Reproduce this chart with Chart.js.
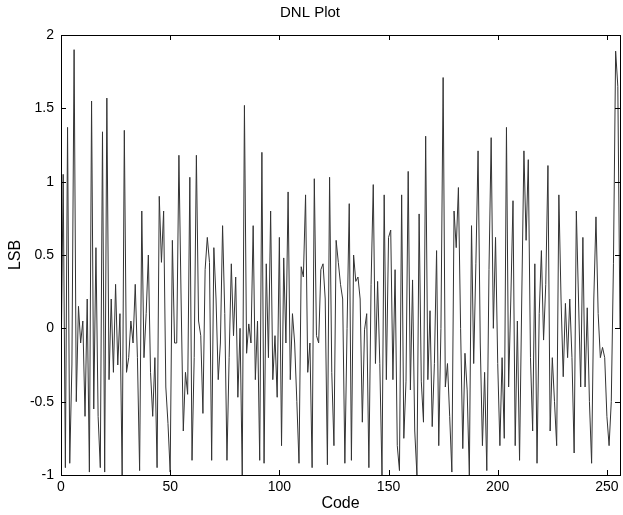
<!DOCTYPE html>
<html>
<head>
<meta charset="utf-8">
<title>DNL Plot</title>
<script src="https://cdn.jsdelivr.net/npm/chart.js@4"></script>
<style>
  body { margin: 0; background: #fff; }
  #wrap { width: 623px; height: 515px; }
</style>
</head>
<body>
<div id="wrap"><canvas id="dnl" width="623" height="515"></canvas></div>
<script>
// DNL value per code (LSB)
const dnl = [
  -0.3, 1.05, -0.95, 1.37, -0.92, -0.25, 1.9, -0.5, 0.15, -0.1,
  0.05, -0.6, 0.2, -0.98, 1.55, -0.55, 0.55, -0.6, -0.95, 1.34,
  -0.98, 1.57, -0.35, 0.2, -0.3, 0.3, -0.25, 0.1, -1.0, 1.35,
  -0.3, -0.2, 0.05, -0.1, 0.3, -0.2, -0.97, 0.8, -0.2, 0.1,
  0.5, -0.3, -0.6, -0.2, -0.95, 0.9, 0.45, 0.8, -0.4, -0.65,
  -0.98, 0.6, -0.1, -0.1, 1.18, 0.2, -0.7, -0.3, -0.45, 1.03,
  -0.9, -0.2, 1.18, 0.05, -0.05, -0.58, 0.4, 0.62, 0.45, -0.9,
  0.55, 0.2, -0.35, -0.1, 0.7, 0.1, -0.9, -0.2, 0.44, -0.05,
  0.35, -0.47, 0.0, -1.0, 1.52, -0.17, 0.03, -0.1, 0.7, -0.35,
  0.05, -0.9, 1.2, -0.92, 0.44, -0.2, 0.8, -0.35, -0.05, -0.47,
  0.62, -0.8, 0.48, -0.1, 0.93, -0.35, 0.1, -0.1, -0.5, -0.92,
  0.42, 0.35, 0.91, -0.3, -0.1, -0.95, 1.02, -0.05, -0.1, 0.4,
  0.44, 0.2, -0.93, 1.03, -0.3, -0.8, 0.6, 0.45, 0.3, 0.2,
  -0.92, 0.0, 0.85, -0.9, 0.5, 0.32, 0.35, 0.2, -0.64, -0.01,
  0.1, -0.95, 0.3, 0.98, -0.24, 0.32, -0.24, -1.0, 0.91, -0.35,
  0.62, 0.67, -0.35, 0.4, -0.8, -0.97, 0.91, -0.75, -0.36, 1.07,
  -0.42, 0.33, -0.7, -1.0, 0.78, -0.36, -0.64, 1.31, -0.35, 0.12,
  -0.67, -0.24, 0.53, -0.8, 0.0, 1.71, -0.4, -0.24, -0.6, -0.98,
  0.8, 0.55, 0.96, 0.0, -0.82, -0.17, -0.42, -1.0, 0.7, -0.24,
  0.44, 1.21, -0.1, -0.8, -0.3, -0.97, 0.4, 1.3, 0.0, 0.62,
  -0.24, -0.8, -0.2, -0.75, 1.37, -0.4, 0.2, 0.87, -0.8, 0.05,
  -0.9, 0.2, 1.21, 0.6, 1.15, -0.2, -0.7, 0.44, -0.92, 0.1,
  0.53, -0.08, 0.3, 1.11, -0.7, -0.2, -0.5, -0.8, 0.91, 0.2,
  -0.33, 0.17, -0.2, 0.2, -0.2, -0.85, 0.8, 0.2, -0.4, 0.62,
  -0.4, 0.14, -0.5, -0.92, 0.2, 0.76, 0.1, -0.2, -0.13, -0.2,
  -0.6, -0.8, -0.5, 0.44, 1.89, 1.65, 0.0
];
const codes = dnl.map((v, i) => i);
const xTicks = [0, 50, 100, 150, 200, 250];
const yTicks = [-1, -0.5, 0, 0.5, 1, 1.5, 2];

const font = { family: "'Liberation Sans', Arial, sans-serif", size: 14 };

// matlab style box with inward ticks on all four sides
const boxTicks = {
  id: 'boxTicks',
  afterDraw(chart) {
    const { ctx, chartArea: a, scales } = chart;
    const len = 5;
    ctx.save();
    ctx.strokeStyle = '#000';
    ctx.lineWidth = 1;
    ctx.beginPath();
    xTicks.forEach(v => {
      const px = Math.round(scales.x.getPixelForValue(v)) + 0.5;
      ctx.moveTo(px, a.bottom); ctx.lineTo(px, a.bottom - len);
      ctx.moveTo(px, a.top); ctx.lineTo(px, a.top + len);
    });
    yTicks.forEach(v => {
      const py = Math.round(scales.y.getPixelForValue(v)) + 0.5;
      ctx.moveTo(a.left, py); ctx.lineTo(a.left + len, py);
      ctx.moveTo(a.right, py); ctx.lineTo(a.right - len, py);
    });
    ctx.stroke();
    ctx.strokeRect(Math.round(a.left) + 0.5, Math.round(a.top) + 0.5,
                   Math.round(a.width), Math.round(a.height));
    ctx.restore();
  }
};

new Chart(document.getElementById('dnl'), {
  type: 'line',
  data: {
    labels: codes,
    datasets: [{
      data: codes.map((c, i) => ({ x: c, y: dnl[i] })),
      borderColor: '#333',
      borderWidth: 1,
      pointRadius: 0,
      tension: 0,
      fill: false
    }]
  },
  options: {
    responsive: false,
    animation: false,
    layout: { padding: { left: 0, right: 3, top: 0, bottom: 0 } },
    plugins: {
      legend: { display: false },
      tooltip: { enabled: false },
      title: {
        display: true,
        text: 'DNL Plot',
        color: '#000',
        font: { family: font.family, size: 15, weight: 'normal' },
        padding: { top: 4, bottom: 13 }
      }
    },
    scales: {
      x: {
        type: 'linear',
        min: 0,
        max: 256,
        afterBuildTicks: s => { s.ticks = xTicks.map(v => ({ value: v })); },
        afterFit: s => { s.height = 40; },
        grid: { display: false, drawTicks: false },
        border: { display: false },
        ticks: { color: '#000', font, padding: 4, maxRotation: 0 },
        title: { display: true, text: 'Code', color: '#000',
                 font: { family: font.family, size: 16 }, padding: { top: 0, bottom: 2 } }
      },
      y: {
        min: -1,
        max: 2,
        afterBuildTicks: s => { s.ticks = yTicks.map(v => ({ value: v })); },
        afterFit: s => { s.width = 61; },
        grid: { display: false, drawTicks: false },
        border: { display: false },
        ticks: { color: '#000', font, padding: 7, callback: v => String(v) },
        title: { display: true, text: 'LSB', color: '#000',
                 font: { family: font.family, size: 16 }, padding: { top: 6, bottom: 0 } }
      }
    }
  },
  plugins: [boxTicks]
});
</script>
</body>
</html>
